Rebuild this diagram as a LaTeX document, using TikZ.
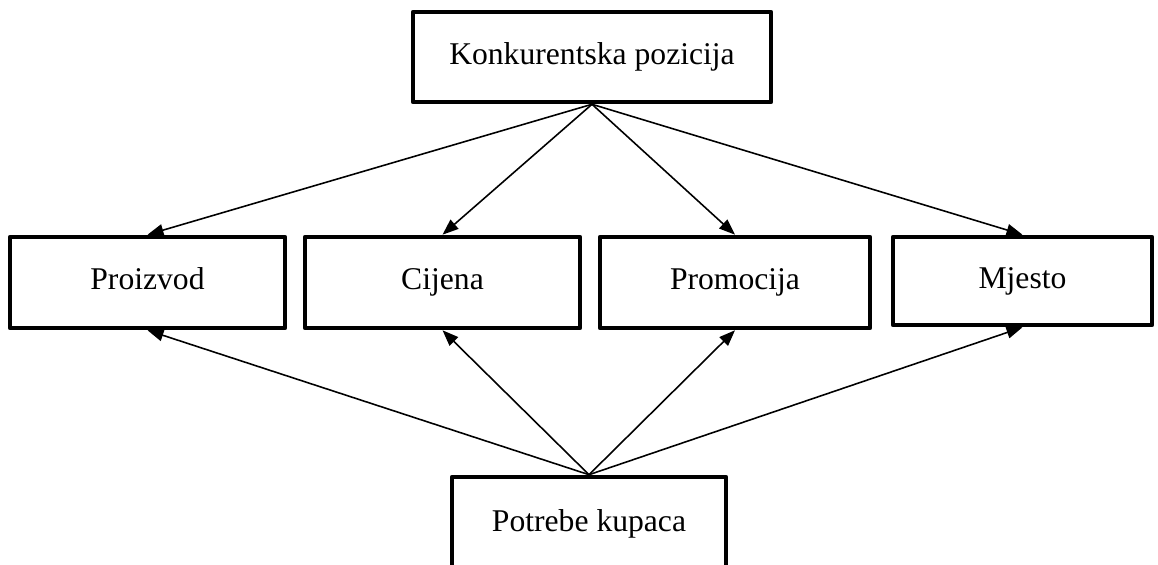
\documentclass[tikz,border=0pt]{standalone}
\usepackage{fontspec}
\setmainfont{Liberation Serif}
\usetikzlibrary{arrows.meta}

\begin{document}
\begin{tikzpicture}[
    kutija/.style={draw, line width=2.6pt, line join=round, inner sep=0pt, text height=12.5pt, text depth=4pt, font=\fontsize{18}{22}\selectfont},
    veza/.style={-{Triangle[length=3.2mm,width=2.4mm]}, line width=0.9pt}
]
\useasboundingbox (0,0) rectangle (23.16,11.3);

% Boxes
\node[kutija, minimum width=7.16cm, minimum height=1.8cm] (konk) at (11.84,10.16) {Konkurentska pozicija};

\node[kutija, minimum width=5.5cm, minimum height=1.82cm] (proizvod) at (2.95,5.65) {Proizvod};
\node[kutija, minimum width=5.5cm, minimum height=1.82cm] (cijena) at (8.85,5.65) {Cijena};
\node[kutija, minimum width=5.4cm, minimum height=1.82cm] (promocija) at (14.7,5.65) {Promocija};
\node[kutija, minimum width=5.18cm, minimum height=1.76cm] (mjesto) at (20.45,5.68) {Mjesto};

\node[kutija, minimum width=5.48cm, minimum height=1.9cm] (potrebe) at (11.78,0.81) {Potrebe kupaca};

% Arrows down
\draw[veza] (konk.south) -- (proizvod.north);
\draw[veza] (konk.south) -- (cijena.north);
\draw[veza] (konk.south) -- (promocija.north);
\draw[veza] (konk.south) -- (mjesto.north);

% Arrows up
\draw[veza] (potrebe.north) -- (proizvod.south);
\draw[veza] (potrebe.north) -- (cijena.south);
\draw[veza] (potrebe.north) -- (promocija.south);
\draw[veza] (potrebe.north) -- (mjesto.south);

\end{tikzpicture}
\end{document}
